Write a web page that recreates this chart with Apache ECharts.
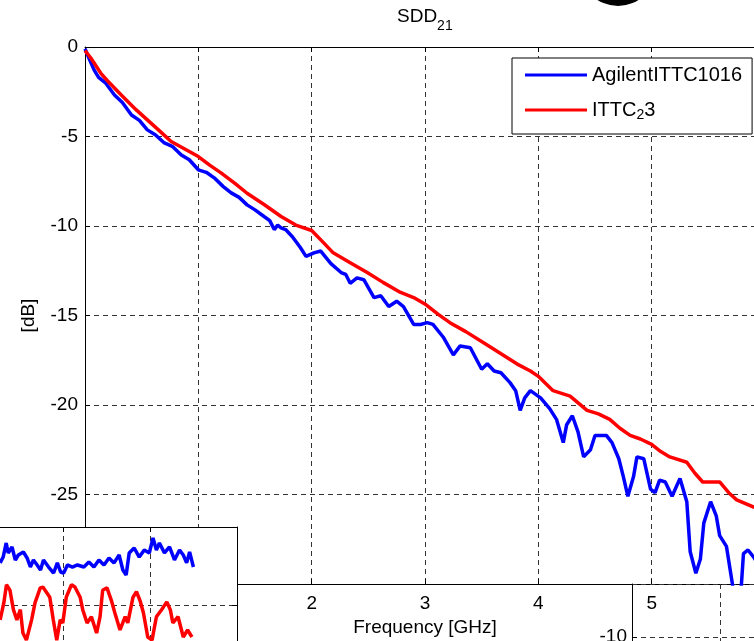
<!DOCTYPE html>
<html><head><meta charset="utf-8">
<script src="https://cdn.jsdelivr.net/npm/echarts@6/dist/echarts.min.js"></script>
<style>html,body{margin:0;padding:0;background:#fff}#c{width:754px;height:641px}</style>
</head><body><div id="c"></div>
<script>
// ---- data ----
const seriesNames = ['AgilentITTC1016', 'ITTC23'];
const titleMain = 'SDD';
const titleSub = '21';
const xName = 'Frequency [GHz]';
const yName = '[dB]';
const xTicks = [0, 1, 2, 3, 4, 5, 6];
const yTicks = [0, -5, -10, -15, -20, -25, -30];
const inset2YTicks = [-5, -10, -15];

const agilentFreq = [0, 0.04, 0.08, 0.12, 0.18, 0.26, 0.33, 0.41, 0.48, 0.55, 0.62, 0.70, 0.77, 0.85, 0.92, 1.0, 1.07, 1.14, 1.22, 1.29, 1.36, 1.43, 1.5, 1.58, 1.63, 1.67, 1.7, 1.73, 1.77, 1.83, 1.9, 1.95, 2.02, 2.08, 2.17, 2.26, 2.30, 2.34, 2.40, 2.46, 2.55, 2.61, 2.68, 2.75, 2.81, 2.90, 2.96, 3.02, 3.07, 3.16, 3.25, 3.31, 3.40, 3.50, 3.55, 3.61, 3.67, 3.75, 3.80, 3.84, 3.88, 3.93, 4.02, 4.10, 4.16, 4.22, 4.25, 4.30, 4.35, 4.40, 4.46, 4.50, 4.60, 4.65, 4.71, 4.75, 4.79, 4.84, 4.87, 4.93, 4.99, 5.03, 5.07, 5.12, 5.18, 5.25, 5.31, 5.34, 5.39, 5.43, 5.46, 5.52, 5.57, 5.60, 5.66, 5.72, 5.76, 5.79, 5.81, 5.85, 5.9, 5.95];
const agilentDb = [-0.1, -0.7, -1.28, -1.7, -2.0, -2.68, -3.1, -3.8, -4.1, -4.63, -4.9, -5.36, -5.55, -6.03, -6.3, -6.86, -7.0, -7.31, -7.8, -8.15, -8.4, -8.82, -9.1, -9.47, -9.7, -10.2, -9.95, -10.1, -10.2, -10.6, -11.2, -11.7, -11.5, -11.4, -12.1, -12.6, -12.7, -13.2, -12.9, -13.0, -14.0, -13.9, -14.5, -14.2, -14.5, -15.5, -15.5, -15.4, -15.5, -16.2, -17.2, -16.7, -16.8, -18.0, -17.7, -18.1, -18.2, -18.75, -19.2, -20.3, -19.6, -19.2, -19.6, -20.2, -20.8, -22.1, -21.1, -20.6, -21.5, -22.9, -22.5, -21.7, -21.7, -22.1, -23.0, -24.0, -25.1, -24.0, -22.9, -23.0, -24.7, -24.9, -24.2, -24.3, -25.1, -24.1, -25.4, -28.2, -29.4, -28.6, -26.6, -25.4, -26.2, -27.3, -27.9, -30.3, -31.5, -30.2, -28.3, -28.1, -28.5, -29.0];

const ittcFreq = [0, 0.05, 0.14, 0.2, 0.32, 0.45, 0.55, 0.66, 0.76, 0.88, 1.0, 1.1, 1.2, 1.32, 1.43, 1.58, 1.73, 1.86, 2.0, 2.1, 2.19, 2.34, 2.49, 2.63, 2.78, 2.9, 3.01, 3.12, 3.22, 3.36, 3.51, 3.66, 3.81, 3.93, 4.0, 4.13, 4.28, 4.43, 4.53, 4.63, 4.72, 4.81, 4.9, 5.0, 5.08, 5.16, 5.31, 5.38, 5.45, 5.6, 5.68, 5.75, 5.9, 6.0];
const ittcDb = [-0.2, -0.6, -1.47, -1.9, -2.68, -3.5, -4.07, -4.7, -5.28, -5.7, -6.12, -6.6, -7.03, -7.6, -8.17, -8.8, -9.47, -9.95, -10.25, -10.9, -11.5, -12.05, -12.6, -13.15, -13.7, -14.0, -14.4, -14.95, -15.4, -15.9, -16.5, -17.1, -17.7, -18.1, -18.4, -19.2, -19.5, -20.3, -20.5, -20.8, -21.3, -21.7, -21.9, -22.2, -22.6, -22.9, -23.2, -23.8, -24.3, -24.3, -24.9, -25.3, -25.7, -26.0];

// inset (lower-left) traces
const insetBlueX = [0.267, 0.302, 0.337, 0.36, 0.404, 0.442, 0.477, 0.535, 0.578, 0.616, 0.651, 0.694, 0.733, 0.767, 0.826, 0.884, 0.927, 0.965, 1.0, 1.043, 1.101, 1.159, 1.233, 1.291, 1.349, 1.407, 1.465, 1.523, 1.581, 1.64, 1.683, 1.721, 1.756, 1.814, 1.872, 1.93, 1.988, 2.031, 2.07, 2.105, 2.163, 2.221, 2.279, 2.337, 2.38, 2.419, 2.453, 2.497];
const insetBlueY = [-0.46, -0.385, -0.205, -0.333, -0.256, -0.423, -0.359, -0.321, -0.397, -0.513, -0.423, -0.487, -0.551, -0.423, -0.513, -0.59, -0.46, -0.577, -0.59, -0.487, -0.513, -0.487, -0.513, -0.449, -0.513, -0.423, -0.487, -0.397, -0.46, -0.359, -0.551, -0.615, -0.333, -0.269, -0.385, -0.295, -0.333, -0.141, -0.295, -0.205, -0.333, -0.256, -0.423, -0.295, -0.359, -0.46, -0.321, -0.513];
const insetRedX = [0.267, 0.31, 0.34, 0.38, 0.42, 0.46, 0.5, 0.53, 0.57, 0.63, 0.67, 0.73, 0.76, 0.84, 0.88, 0.92, 0.96, 0.99, 1.03, 1.09, 1.13, 1.19, 1.22, 1.27, 1.32, 1.38, 1.42, 1.45, 1.5, 1.55, 1.59, 1.65, 1.71, 1.74, 1.8, 1.84, 1.88, 1.92, 1.97, 2.02, 2.07, 2.13, 2.19, 2.23, 2.26, 2.32, 2.38, 2.43, 2.48];
const insetRedY = [-1.19, -0.97, -0.74, -0.81, -1.06, -1.19, -1.06, -1.36, -1.45, -1.19, -0.97, -0.78, -0.77, -0.9, -1.19, -1.45, -1.19, -1.23, -0.9, -0.74, -0.77, -0.9, -1.06, -1.23, -1.15, -1.36, -1.15, -0.81, -0.78, -0.94, -1.1, -1.32, -1.15, -1.23, -0.9, -0.83, -0.94, -1.1, -1.41, -1.45, -1.15, -1.06, -0.96, -1.06, -1.23, -1.15, -1.41, -1.32, -1.41];

// ---- chart ----
const zip = (a, b) => a.map((v, i) => [v, b[i]]);
const FONT = "'Liberation Sans', Arial, sans-serif";
const dashed = { show: true, lineStyle: { color: '#333', type: [5, 4], width: 1 } };
const blackLine = { show: true, onZero: false, lineStyle: { color: '#000', width: 1 } };
const tickIn = { show: true, inside: true, length: 5, lineStyle: { color: '#000' } };
const noLabel = { show: false };
const LW = 3.5;

const chart = echarts.init(document.getElementById('c'), null, { renderer: 'canvas' });
chart.setOption({
  animation: false,
  backgroundColor: '#fff',
  textStyle: { fontFamily: FONT },
  title: {
    text: '{a|' + titleMain + '}{b|' + titleSub + '}',
    left: 392, top: 2,
    textStyle: {
      fontWeight: 'normal',
      rich: {
        a: { fontSize: 19, fontFamily: FONT, fontWeight: 'normal', color: '#000', verticalAlign: 'top', lineHeight: 22 },
        b: { fontSize: 14, fontFamily: FONT, fontWeight: 'normal', color: '#000', verticalAlign: 'top', padding: [12, 0, 0, 0] }
      }
    }
  },
  legend: {
    data: seriesNames,
    orient: 'vertical',
    left: 512, top: 58,
    padding: [7, 10, 12, 13],
    icon: 'rect',
    itemWidth: 62, itemHeight: 3, itemGap: 15,
    backgroundColor: '#fff',
    borderColor: '#000', borderWidth: 1, borderRadius: 0,
    formatter: (name) => name === seriesNames[1] ? '{n|ITTC}{s|2}{n|3}' : '{n|' + name + '}',
    textStyle: {
      rich: {
        n: { fontSize: 20, fontFamily: FONT, color: '#000', verticalAlign: 'top', lineHeight: 20 },
        s: { fontSize: 14, fontFamily: FONT, color: '#000', verticalAlign: 'top', lineHeight: 14, padding: [8, 0, 0, 0] }
      }
    }
  },
  graphic: [{
    type: 'circle', shape: { cx: 618, cy: -32, r: 38 }, style: { fill: '#000' }, z: 10
  }],
  grid: [
    { left: 85, top: 47, width: 680, height: 537, show: false, outerBoundsMode: 'none', containLabel: false },
    { left: -23, top: 527, width: 260, height: 156, show: true, backgroundColor: '#fff', borderWidth: 0, z: 3, outerBoundsMode: 'none', containLabel: false },
    { left: 632, top: 584, width: 176, height: 106, show: false, z: 3, outerBoundsMode: 'none', containLabel: false }
  ],
  xAxis: [
    { gridIndex: 0, type: 'value', min: xTicks[0], max: xTicks[xTicks.length - 1], interval: 1, position: 'bottom',
      axisLine: blackLine, axisTick: tickIn, splitLine: dashed,
      axisLabel: { fontSize: 19, color: '#000', margin: 10, fontFamily: FONT },
      name: xName, nameLocation: 'middle', nameGap: 33,
      nameTextStyle: { fontSize: 19, color: '#000', fontFamily: FONT } },
    { gridIndex: 0, type: 'value', min: xTicks[0], max: xTicks[xTicks.length - 1], interval: 1, position: 'top',
      axisLine: blackLine, axisTick: tickIn, splitLine: { show: false }, axisLabel: noLabel, z: 1 },
    { gridIndex: 1, type: 'value', min: 0, max: 3, interval: 1, position: 'bottom',
      axisLine: blackLine, axisTick: tickIn, splitLine: dashed, axisLabel: noLabel, z: 4 },
    { gridIndex: 1, type: 'value', min: 0, max: 3, interval: 1, position: 'top',
      axisLine: blackLine, axisTick: tickIn, splitLine: { show: false }, axisLabel: noLabel, z: 4 },
    { gridIndex: 2, type: 'value', min: 0, max: 2, interval: 1, position: 'bottom',
      axisLine: { show: false, onZero: false }, axisTick: { show: false }, splitLine: dashed, axisLabel: noLabel, z: 1 }
  ],
  yAxis: [
    { gridIndex: 0, type: 'value', min: yTicks[yTicks.length - 1], max: yTicks[0], interval: 5,
      axisLine: blackLine, axisTick: tickIn, splitLine: dashed,
      axisLabel: { fontSize: 19, color: '#000', margin: 7, fontFamily: FONT },
      name: yName, nameLocation: 'middle', nameGap: 47, nameRotate: 90,
      nameTextStyle: { fontSize: 19, color: '#000', fontFamily: FONT } },
    { gridIndex: 1, type: 'value', min: -2, max: 0, interval: 1,
      axisLine: blackLine, axisTick: tickIn, splitLine: dashed, axisLabel: noLabel, z: 4 },
    { gridIndex: 1, type: 'value', min: -2, max: 0, interval: 1, position: 'right',
      axisLine: blackLine, axisTick: tickIn, splitLine: { show: false }, axisLabel: noLabel, z: 4 },
    { gridIndex: 2, type: 'value', min: inset2YTicks[2], max: inset2YTicks[0], interval: 5,
      axisLine: blackLine, axisTick: tickIn, splitLine: dashed,
      axisLabel: { fontSize: 19, color: '#000', margin: 5, fontFamily: FONT, showMinLabel: false, showMaxLabel: false },
      z: 1 }
  ],
  series: [
    { name: seriesNames[0], type: 'line', xAxisIndex: 0, yAxisIndex: 0, data: zip(agilentFreq, agilentDb),
      symbol: 'none', showSymbol: false, clip: true, lineStyle: { color: '#0000ff', width: LW }, itemStyle: { color: '#0000ff' }, z: 2 },
    { name: seriesNames[1], type: 'line', xAxisIndex: 0, yAxisIndex: 0, data: zip(ittcFreq, ittcDb),
      symbol: 'none', showSymbol: false, clip: true, lineStyle: { color: '#ff0000', width: LW }, itemStyle: { color: '#ff0000' }, z: 2 },
    { name: 'insetBlue', type: 'line', xAxisIndex: 2, yAxisIndex: 1, data: zip(insetBlueX, insetBlueY),
      symbol: 'none', clip: true, lineStyle: { color: '#0000ff', width: LW }, itemStyle: { color: '#0000ff' }, z: 5 },
    { name: 'insetRed', type: 'line', xAxisIndex: 2, yAxisIndex: 1, data: zip(insetRedX, insetRedY),
      symbol: 'none', clip: true, lineStyle: { color: '#ff0000', width: LW }, itemStyle: { color: '#ff0000' }, z: 5 }
  ]
});
</script>
</body></html>
